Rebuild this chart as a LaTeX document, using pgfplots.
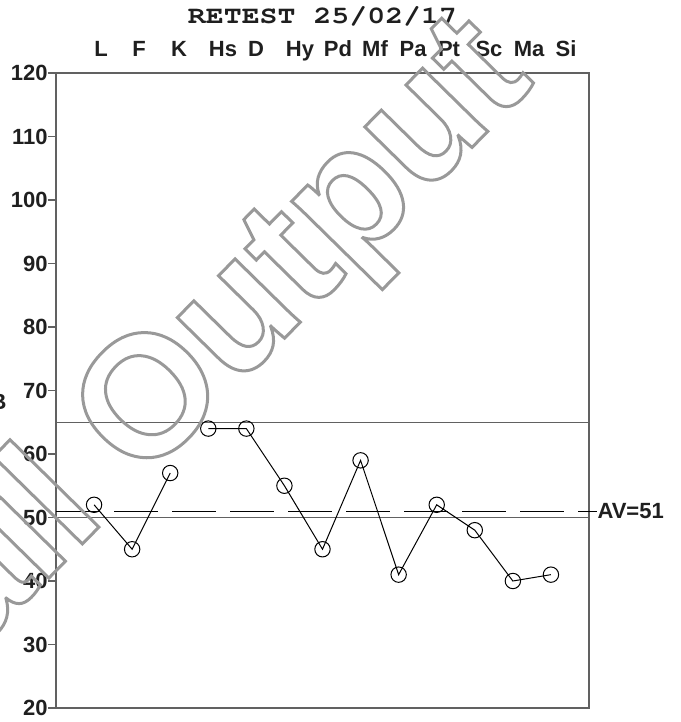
\documentclass[border=0pt]{standalone}
\usepackage[T1,TU]{fontenc}
\usepackage{fontspec}
\setmainfont{Liberation Sans}
\usepackage{graphicx}
\usepackage{pgfplots}
\pgfplotsset{compat=1.18}
\definecolor{frame}{gray}{0.38}
\definecolor{wm}{gray}{0.6}
\begin{document}
\begin{tikzpicture}
\begin{axis}[
  at={(0pt,0pt)}, anchor=south west,
  scale only axis, width=266.5pt, height=317.5pt,
  xmin=0, xmax=14, ymin=20, ymax=120,
  axis line style={frame, line width=0.6pt},
  ytick={20,30,...,120},
  ytick pos=left, ytick align=outside, major tick length=4pt,
  y tick style={frame, line width=0.6pt},
  xtick={1.182,2.180,3.231,4.387,5.254,6.409,7.407,8.379,9.378,10.323,11.374,12.425,13.396},
  xticklabels={L,F,K,Hs,D,Hy,Pd,Mf,Pa,Pt,Sc,Ma,Si},
  xticklabel pos=right, x tick style={draw=none},
  tick label style={font=\fontsize{11}{13}\selectfont\bfseries, text=black!88},
  /pgf/number format/assume math mode=true,
  yticklabel style={inner xsep=0pt},
  xticklabel style={anchor=base, yshift=8pt, inner sep=0pt},
  clip=false,
]
\addplot[frame, line width=0.6pt] coordinates {(0,65) (14,65)};
\addplot[frame, line width=0.6pt] coordinates {(0,50) (14,50)};
\addplot[black, line width=0.5pt, dash pattern=on 22pt off 7pt] coordinates {(0,51) (14,51)};
\addplot[black, line width=0.5pt, mark=o, mark size=3.85pt] coordinates {(1,52) (2,45) (3,57)};
\addplot[black, line width=0.5pt, mark=o, mark size=3.85pt] coordinates {(4,64) (5,64) (6,55) (7,45) (8,59) (9,41) (10,52) (11,48) (12,40) (13,41)};
\draw[black, line width=0.5pt] (axis cs:14,51) -- ([xshift=4pt]axis cs:14,51) node[anchor=west, inner sep=0pt, font=\fontsize{11}{13}\selectfont\bfseries, text=black!88]{AV=51};
\end{axis}
\node[anchor=base, inner sep=0pt, text=black!88] at (133.25pt,342pt) {\scalebox{1.22}[1]{\fontencoding{T1}\fontfamily{pcr}\fontseries{b}\fontsize{12.25}{14}\selectfont RETEST 25/02/17}};
\node[anchor=base east, inner sep=0pt, text=black!88, font=\fontsize{11}{13}\selectfont\bfseries] at (-24.5pt,149pt) {B};
\node[rotate=45.5, anchor=base west, inner sep=0pt, text=wm, font=\fontsize{86}{86}\selectfont\bfseries] at (42.35pt,111.7pt) {\special{pdf:literal direct 1 Tr 1.5 w}\llap{Email }Output\special{pdf:literal direct 0 Tr}};
\pgfresetboundingbox
\useasboundingbox (-28pt,-7pt) rectangle (312pt,354pt);
\end{tikzpicture}
\end{document}
